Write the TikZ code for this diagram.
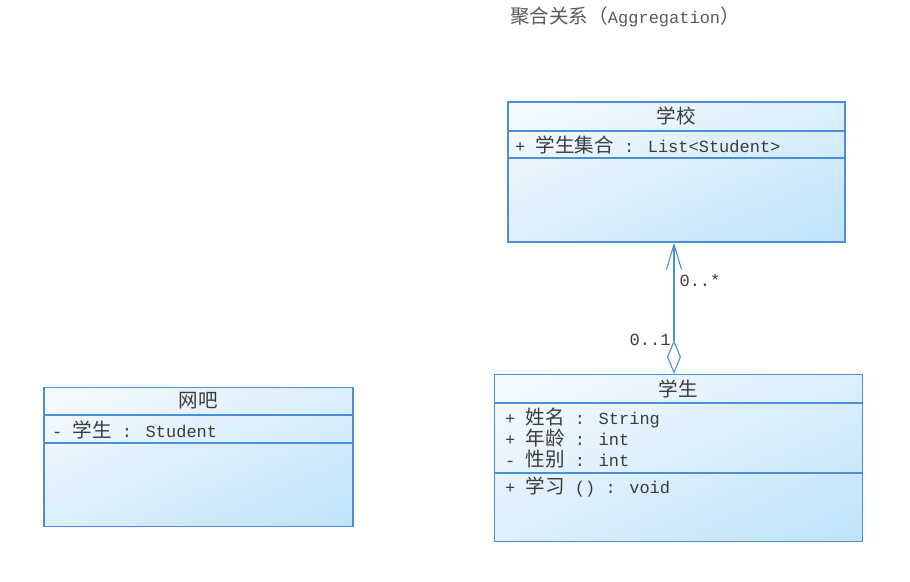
\documentclass[tikz,border=0pt]{standalone}
\usepackage{fontspec}
\setmainfont{Liberation Mono}
\newfontfamily\cjk[Scale=1.15]{Noto Sans CJK SC}
\usetikzlibrary{arrows.meta,positioning,shadings}
\definecolor{umlBlue}{HTML}{4A8FD8}
\definecolor{fillTop}{HTML}{F6FBFF}
\definecolor{fillMid}{HTML}{DCEFFC}
\definecolor{fillLow}{HTML}{BEE3FA}
\definecolor{textGray}{HTML}{3C3C3C}

\begin{document}
\begin{tikzpicture}[
  x=1pt,y=-1pt,
  every node/.style={font=\fontsize{17}{21}\selectfont,text=textGray},
  umlbox/.style={draw=umlBlue,line width=1.1pt,inner sep=0pt,
    upper left=fillTop,upper right=fillMid,lower left=fillMid,lower right=fillLow},
  umlline/.style={draw=umlBlue,line width=1.1pt},
  hdr/.style={inner sep=0pt,anchor=center},
  attr/.style={inner sep=0pt,anchor=west,align=left},
  mult/.style={inner sep=0pt},
  aggr/.style={draw=umlBlue,line width=1.1pt,
    {Diamond[open,length=34pt,width=14pt,line width=1.1pt]}-{Straight Barb[length=25pt,width=15pt,line width=1.1pt]}},
]
\useasboundingbox (0,0) rectangle (910,581);

% title
\node[attr,text=textGray!85] (title) at (510,17) {{\cjk 聚合关系（}Aggregation{\cjk ）}};

% class: school
\node[umlbox,minimum width=337pt,minimum height=140pt] (school) at (676.5,172) {};
\draw[umlline] (school.west |- 0,131) -- (school.east |- 0,131);
\draw[umlline] (school.west |- 0,158) -- (school.east |- 0,158);
\node[hdr] (schoolname) at (676.5,116) {\cjk 学校};
\node[attr] (schoolattr) at (515,145) {+ {\cjk 学生集合} : List<Student>};

% class: student
\node[umlbox,minimum width=368pt,minimum height=167pt] (student) at (678.5,458) {};
\draw[umlline] (student.west |- 0,403) -- (student.east |- 0,403);
\draw[umlline] (student.west |- 0,473) -- (student.east |- 0,473);
\node[hdr] (studentname) at (678.5,389) {\cjk 学生};
\node[attr] (studentattr) at (505,438) {+ {\cjk 姓名} : String\\+ {\cjk 年龄} : int\\- {\cjk 性别} : int};
\node[attr] (studentop) at (505,487) {+ {\cjk 学习} () : void};

% class: internet cafe
\node[umlbox,minimum width=309pt,minimum height=139pt] (cafe) at (198.5,457) {};
\draw[umlline] (cafe.west |- 0,415) -- (cafe.east |- 0,415);
\draw[umlline] (cafe.west |- 0,443) -- (cafe.east |- 0,443);
\node[hdr] (cafename) at (198.5,401) {\cjk 网吧};
\node[attr] (cafeattr) at (52,430) {- {\cjk 学生} : Student};

% aggregation
\draw[aggr] (student.north -| 674,0) -- (school.south -| 674,0)
  node[mult,pos=0.71,right=5pt] (multmany) {0..*}
  node[mult,pos=0.26,left=3pt] (multone) {0..1};
\end{tikzpicture}
\end{document}
